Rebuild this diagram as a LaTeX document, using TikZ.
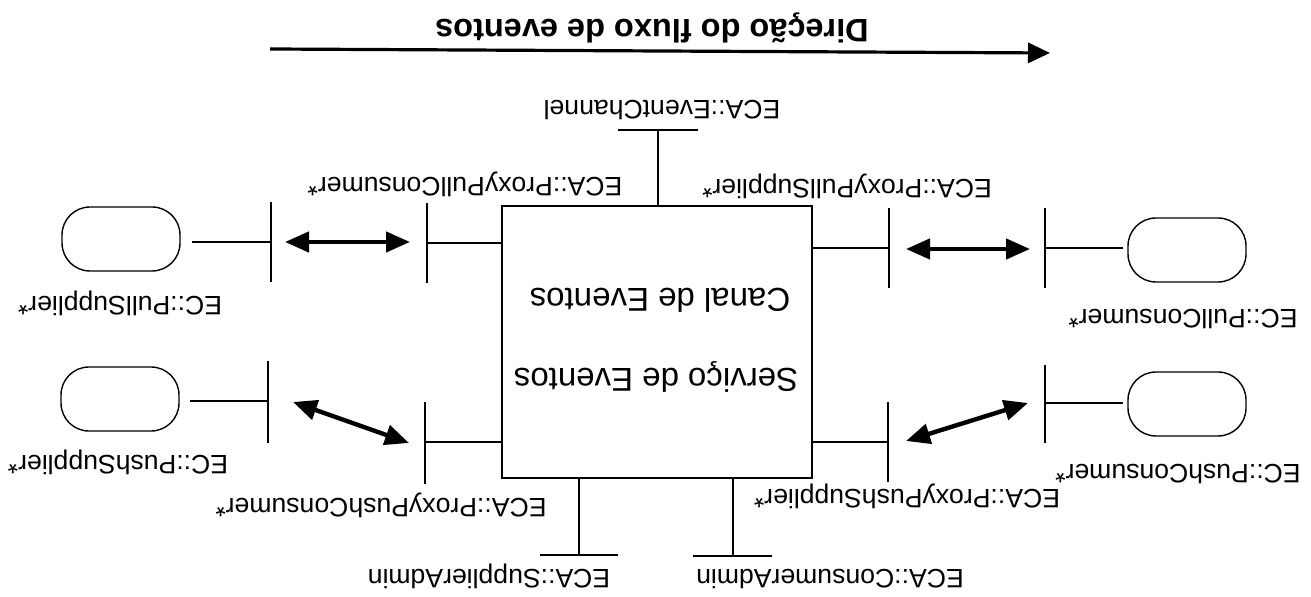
\documentclass[tikz,border=0pt]{standalone}
\usepackage{fontspec}
\setmainfont{Liberation Sans}
\usetikzlibrary{arrows.meta}
\begin{document}
\begin{tikzpicture}[x=0.5pt,y=-0.5pt,
  lbl/.style={rotate=180,anchor=base,inner sep=0pt,font=\fontsize{13.3}{16}\selectfont},
  boxtxt/.style={rotate=180,anchor=base,inner sep=0pt,font=\fontsize{16.5}{20}\selectfont},
  ttl/.style={rotate=180,anchor=base,inner sep=0pt,font=\fontsize{16.25}{20}\selectfont\bfseries},
  wire/.style={line width=1pt},
  bar/.style={line width=1.1pt},
  flow/.style={line width=2.2pt,{Triangle[length=12pt,width=10pt]}-{Triangle[length=12pt,width=10pt]}},
  client/.style={draw,line width=0.7pt,rounded corners=14pt,minimum width=59pt,minimum height=32pt,inner sep=0pt},
  service/.style={draw,line width=1.2pt,minimum width=155pt,minimum height=136pt,inner sep=0pt},
]
\fill[white] (0,0) rectangle (1311,597);
\useasboundingbox (0,0) rectangle (1311,597);

% direction of the event flow
\node[ttl] (title) at (652,20) {Direção do fluxo de eventos};
\coordinate (flowA) at (270,49);
\coordinate (flowB) at (1050,53);
\draw[line width=1.6pt,-{Triangle[length=11pt,width=10pt]}] (flowA) -- (flowB);

% event service box
\node[service] (svc) at (657,342) {};
\node[boxtxt] (svcA) at (656,369) {Serviço de Eventos};
\node[boxtxt] (svcB) at (660,289) {Canal de Eventos};

% event channel interface
\coordinate (ecTop) at (658,206);
\coordinate (ecEnd) at (658,130);
\draw[wire] (ecTop) -- (ecEnd);
\draw[bar] (618,130) coordinate (ecL) -- (698,130) coordinate (ecR);
\node[lbl] (ecLbl) at (662,101) {ECA::EventChannel};

% admin interfaces
\coordinate (saTop) at (579,478);
\coordinate (saEnd) at (579,555);
\draw[wire] (saTop) -- (saEnd);
\draw[bar] (540,555) coordinate (saL) -- (618,555) coordinate (saR);
\node[lbl] (saLbl) at (489,570) {ECA::SupplierAdmin};

\coordinate (caTop) at (733,478);
\coordinate (caEnd) at (733,556);
\draw[wire] (caTop) -- (caEnd);
\draw[bar] (693,556) coordinate (caL) -- (772,556) coordinate (caR);
\node[lbl] (caLbl) at (830,570) {ECA::ConsumerAdmin};

% pull supplier side (upper left)
\coordinate (ppcIn) at (502,243);
\coordinate (ppcBar) at (427,243);
\draw[wire] (ppcIn) -- (ppcBar);
\draw[bar] (427,203) coordinate (ppcT) -- (427,283) coordinate (ppcB);
\coordinate (plsA) at (410,242);
\coordinate (plsB) at (285,242);
\draw[flow] (plsA) -- (plsB);
\draw[bar] (271,202) coordinate (plsT) -- (271,282) coordinate (plsBo);
\node[client] (pullSup) at (121,239) {};
\coordinate (plsBar) at (271,242);
\coordinate (plsEnd) at (192,242);
\draw[wire] (plsBar) -- (plsEnd);
\node[lbl] (ppcLbl) at (465,178) {ECA::ProxyPullConsumer*};
\node[lbl] (plsLbl) at (120,297) {EC::PullSupplier*};

% pull consumer side (upper right)
\coordinate (ppsIn) at (812,248);
\coordinate (ppsBar) at (889,248);
\draw[wire] (ppsIn) -- (ppsBar);
\draw[bar] (889,208) coordinate (ppsT) -- (889,288) coordinate (ppsB);
\coordinate (plcA) at (906,249);
\coordinate (plcB) at (1030,249);
\draw[flow] (plcA) -- (plcB);
\draw[bar] (1045,208) coordinate (plcT) -- (1045,288) coordinate (plcBo);
\node[client] (pullCon) at (1187,250) {};
\coordinate (plcBar) at (1045,248);
\coordinate (plcEnd) at (1123,248);
\draw[wire] (plcBar) -- (plcEnd);
\node[lbl] (ppsLbl) at (847,180) {ECA::ProxyPullSupplier*};
\node[lbl] (plcLbl) at (1183,310) {EC::PullConsumer*};

% push supplier side (lower left)
\coordinate (phcIn) at (502,442);
\coordinate (phcBar) at (425,442);
\draw[wire] (phcIn) -- (phcBar);
\draw[bar] (425,402) coordinate (phcT) -- (425,484) coordinate (phcB);
\coordinate (phsA) at (409,443);
\coordinate (phsB) at (293,402);
\draw[flow] (phsA) -- (phsB);
\draw[bar] (268,361) coordinate (phsT) -- (268,443) coordinate (phsBo);
\node[client] (pushSup) at (120,399) {};
\coordinate (phsBar) at (268,401);
\coordinate (phsEnd) at (190,401);
\draw[wire] (phsBar) -- (phsEnd);
\node[lbl] (phcLbl) at (381,499) {ECA::ProxyPushConsumer*};
\node[lbl] (phsLbl) at (118,456) {EC::PushSupplier*};

% push consumer side (lower right)
\coordinate (pssIn) at (812,442);
\coordinate (pssBar) at (888,442);
\draw[wire] (pssIn) -- (pssBar);
\draw[bar] (888,402) coordinate (pssT) -- (888,482) coordinate (pssB);
\coordinate (phnA) at (906,441);
\coordinate (phnB) at (1028,403);
\draw[flow] (phnA) -- (phnB);
\draw[bar] (1045,365) coordinate (phnT) -- (1045,443) coordinate (phnBo);
\node[client] (pushCon) at (1187,404) {};
\coordinate (phnBar) at (1045,403);
\coordinate (phnEnd) at (1123,403);
\draw[wire] (phnBar) -- (phnEnd);
\node[lbl] (pssLbl) at (907,490) {ECA::ProxyPushSupplier*};
\node[lbl] (phnLbl) at (1178,465) {EC::PushConsumer*};
\end{tikzpicture}
\end{document}
